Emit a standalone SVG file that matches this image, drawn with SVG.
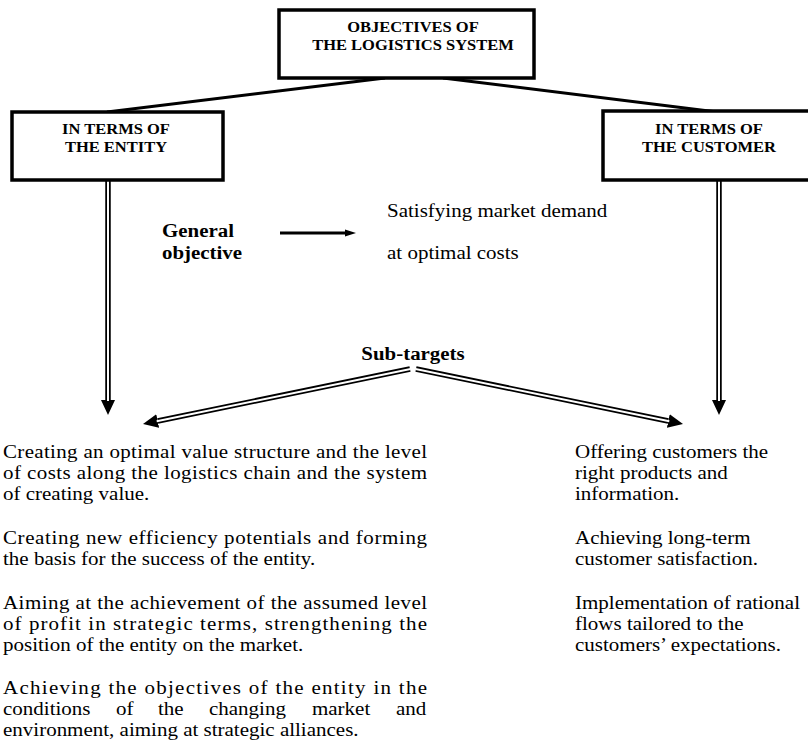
<svg xmlns="http://www.w3.org/2000/svg" width="808" height="741" viewBox="0 0 808 741">
<style>
.box{fill:#fff;stroke:#000;stroke-width:3.5}
.hd{font-family:"Liberation Serif","Times New Roman",serif;font-weight:bold;font-size:15.5px;fill:#000;text-anchor:middle}
.bt{font-family:"Liberation Serif","Times New Roman",serif;font-weight:bold;font-size:19px;fill:#000}
.tx{font-family:"Liberation Serif","Times New Roman",serif;font-size:18.8px;fill:#000}
.dbl{fill:none;stroke:#000;stroke-width:5.5}
.inner{fill:none;stroke:#fff;stroke-width:2}
.ln{fill:none;stroke:#000;stroke-width:3}
</style>
<defs>
<marker id="ah" markerUnits="userSpaceOnUse" markerWidth="16" markerHeight="14" refX="0" refY="7" orient="auto" viewBox="0 0 16 14">
<path d="M0,0 L15,7 L0,14 Z" fill="#000"/>
</marker>
<marker id="ahs" markerUnits="userSpaceOnUse" markerWidth="12" markerHeight="8" refX="0" refY="4" orient="auto" viewBox="0 0 12 8">
<path d="M0,0.5 L11,4 L0,7.5 Z" fill="#000"/>
</marker>
</defs>
<rect width="808" height="741" fill="#fff"/>
<g id="connectors">
<line class="ln" x1="385" y1="78" x2="107" y2="112"/>
<line class="ln" x1="443" y1="78" x2="717" y2="112"/>
<line class="dbl" x1="108" y1="181" x2="108" y2="400" marker-end="url(#ah)"/>
<line class="inner" x1="108" y1="181" x2="108" y2="401"/>
<line class="dbl" x1="719" y1="181" x2="719" y2="400" marker-end="url(#ah)"/>
<line class="inner" x1="719" y1="181" x2="719" y2="401"/>
<line class="dbl" x1="410" y1="369" x2="157.7" y2="421" marker-end="url(#ah)"/>
<line class="inner" x1="410.5" y1="369" x2="156.7" y2="421.2"/>
<line class="dbl" x1="416" y1="369" x2="668.3" y2="421" marker-end="url(#ah)"/>
<line class="inner" x1="415.5" y1="369" x2="669.3" y2="421.2"/>
<line x1="280" y1="233" x2="345" y2="233" stroke="#000" stroke-width="3" marker-end="url(#ahs)"/>
</g>
<g id="objectives">
<rect class="box" x="279" y="10" width="255" height="68"/>
<text class="hd" transform="translate(413,32) scale(1.065,1)">OBJECTIVES OF</text>
<text class="hd" transform="translate(413,50) scale(1.065,1)">THE LOGISTICS SYSTEM</text>
</g>
<g id="entity">
<rect class="box" x="12" y="112" width="211" height="68"/>
<text class="hd" transform="translate(116,134) scale(1.065,1)">IN TERMS OF</text>
<text class="hd" transform="translate(116,152) scale(1.065,1)">THE ENTITY</text>
</g>
<g id="customer">
<rect class="box" x="603" y="111" width="210" height="69"/>
<text class="hd" transform="translate(709,134) scale(1.065,1)">IN TERMS OF</text>
<text class="hd" transform="translate(709,152) scale(1.065,1)">THE CUSTOMER</text>
</g>
<g id="general">
<text class="bt" transform="translate(162,237) scale(1.1,1)">General</text>
<text class="bt" transform="translate(162,259) scale(1.1,1)">objective</text>
</g>
<g id="general-text">
<text class="tx" transform="translate(387,217) scale(1.117,1)">Satisfying market demand</text>
<text class="tx" transform="translate(387,259) scale(1.117,1)">at optimal costs</text>
</g>
<g id="subtargets">
<text class="bt" text-anchor="middle" transform="translate(413,360) scale(1.1,1)">Sub-targets</text>
</g>
<g id="entity-goals">
<text class="tx" transform="translate(3,458) scale(1.117,1)" textLength="379.6" lengthAdjust="spacing">Creating an optimal value structure and the level</text>
<text class="tx" transform="translate(3,479) scale(1.117,1)" textLength="379.6" lengthAdjust="spacing">of costs along the logistics chain and the system</text>
<text class="tx" transform="translate(3,500) scale(1.117,1)">of creating value.</text>
<text class="tx" transform="translate(3,544) scale(1.117,1)" textLength="379.6" lengthAdjust="spacing">Creating new efficiency potentials and forming</text>
<text class="tx" transform="translate(3,565) scale(1.117,1)">the basis for the success of the entity.</text>
<text class="tx" transform="translate(3,609) scale(1.117,1)" textLength="379.6" lengthAdjust="spacing">Aiming at the achievement of the assumed level</text>
<text class="tx" transform="translate(3,630) scale(1.117,1)" textLength="379.6" lengthAdjust="spacing">of profit in strategic terms, strengthening the</text>
<text class="tx" transform="translate(3,651) scale(1.117,1)">position of the entity on the market.</text>
<text class="tx" transform="translate(3,694) scale(1.117,1)" textLength="379.6" lengthAdjust="spacing">Achieving the objectives of the entity in the</text>
<text class="tx" transform="translate(3,715) scale(1.117,1)"><tspan x="0">conditions</tspan><tspan x="101.2">of</tspan><tspan x="138.8">the</tspan><tspan x="184.4">changing</tspan><tspan x="276.6">market</tspan><tspan x="351.8">and</tspan></text>
<text class="tx" transform="translate(3,736) scale(1.117,1)">environment, aiming at strategic alliances.</text>
</g>
<g id="customer-goals">
<text class="tx" transform="translate(575,458) scale(1.117,1)">Offering customers the</text>
<text class="tx" transform="translate(575,479) scale(1.117,1)">right products and</text>
<text class="tx" transform="translate(575,500) scale(1.117,1)">information.</text>
<text class="tx" transform="translate(575,544) scale(1.117,1)">Achieving long-term</text>
<text class="tx" transform="translate(575,565) scale(1.117,1)">customer satisfaction.</text>
<text class="tx" transform="translate(575,609) scale(1.117,1)">Implementation of rational</text>
<text class="tx" transform="translate(575,630) scale(1.117,1)">flows tailored to the</text>
<text class="tx" transform="translate(575,651) scale(1.117,1)">customers’ expectations.</text>
</g>
</svg>
